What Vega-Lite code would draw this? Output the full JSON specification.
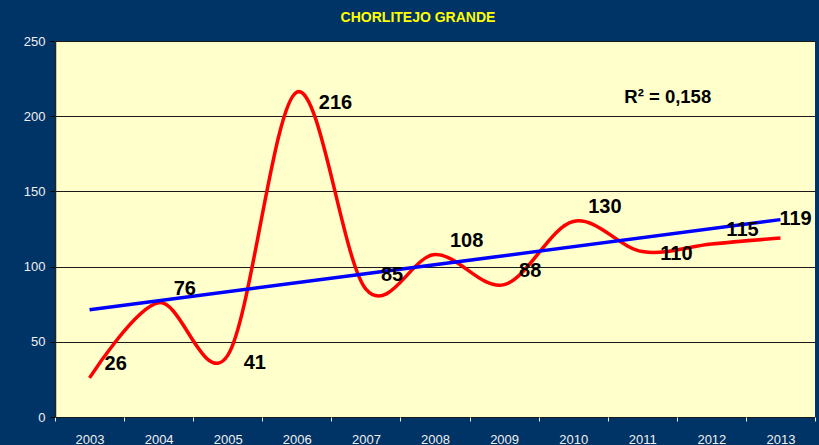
{
  "$schema": "https://vega.github.io/schema/vega-lite/v6.json",
  "width": 760,
  "height": 376,
  "autosize": {"type": "none"},
  "padding": {"left": 55, "top": 41, "right": 4, "bottom": 28},
  "background": "#003366",
  "config": {
    "view": {"fill": "#FFFFCC", "stroke": null},
    "font": "Liberation Sans"
  },
  "title": {
    "text": "CHORLITEJO GRANDE",
    "color": "#FFFF00",
    "fontSize": 14,
    "fontWeight": "bold",
    "font": "Liberation Sans",
    "anchor": "middle",
    "offset": 10,
    "dx": -17
  },
  "data": {
    "values": [
      {"year": 2003, "value": 26},
      {"year": 2004, "value": 76},
      {"year": 2005, "value": 41},
      {"year": 2006, "value": 216},
      {"year": 2007, "value": 85},
      {"year": 2008, "value": 108},
      {"year": 2009, "value": 88},
      {"year": 2010, "value": 130},
      {"year": 2011, "value": 110},
      {"year": 2012, "value": 115},
      {"year": 2013, "value": 119}
    ]
  },
  "encoding": {
    "x": {
      "field": "year",
      "type": "ordinal",
      "title": null,
      "scale": {"paddingInner": 0, "paddingOuter": 0},
      "axis": {
        "labelAngle": 0,
        "labelColor": "#F0F0F0",
        "labelFontSize": 13,
        "labelPadding": 12,
        "tickColor": "#F0F0F0",
        "tickSize": 4,
        "tickBand": "extent",
        "domain": false,
        "grid": false
      }
    },
    "y": {
      "field": "value",
      "type": "quantitative",
      "title": null,
      "scale": {"domain": [0, 250], "nice": false},
      "axis": {
        "values": [0, 50, 100, 150, 200, 250],
        "labelColor": "#F0F0F0",
        "labelFontSize": 13,
        "labelPadding": 5,
        "tickColor": "#000000",
        "tickSize": 5,
        "domainColor": "#222222",
        "domainWidth": 1.5,
        "grid": true,
        "gridColor": "#1A1A1A",
        "gridWidth": 1,
        "gridOpacity": 1
      }
    }
  },
  "layer": [
    {
      "mark": {"type": "line", "color": "#FF0000", "strokeWidth": 3.5, "interpolate": "cardinal"}
    },
    {
      "transform": [{"regression": "value", "on": "year"}],
      "mark": {"type": "line", "color": "#0000FF", "strokeWidth": 3.5}
    },
    {
      "transform": [{"filter": {"not": {"field": "year", "oneOf": [2005, 2006, 2011, 2013]}}}],
      "mark": {"type": "text", "align": "left", "baseline": "middle", "dx": 15, "dy": -14, "fontSize": 20, "fontWeight": "bold", "color": "#000000"},
      "encoding": {"text": {"field": "value", "type": "quantitative"}}
    },
    {
      "transform": [{"filter": {"field": "year", "oneOf": [2005]}}],
      "mark": {"type": "text", "align": "left", "baseline": "middle", "dx": 16, "dy": 8, "fontSize": 20, "fontWeight": "bold", "color": "#000000"},
      "encoding": {"text": {"field": "value", "type": "quantitative"}}
    },
    {
      "transform": [{"filter": {"field": "year", "oneOf": [2006]}}],
      "mark": {"type": "text", "align": "left", "baseline": "middle", "dx": 22, "dy": 11, "fontSize": 20, "fontWeight": "bold", "color": "#000000"},
      "encoding": {"text": {"field": "value", "type": "quantitative"}}
    },
    {
      "transform": [{"filter": {"field": "year", "oneOf": [2011]}}],
      "mark": {"type": "text", "align": "left", "baseline": "middle", "dx": 18, "dy": 2, "fontSize": 20, "fontWeight": "bold", "color": "#000000"},
      "encoding": {"text": {"field": "value", "type": "quantitative"}}
    },
    {
      "transform": [{"filter": {"field": "year", "oneOf": [2013]}}],
      "mark": {"type": "text", "align": "left", "baseline": "middle", "dx": -1, "dy": -19, "fontSize": 20, "fontWeight": "bold", "color": "#000000"},
      "encoding": {"text": {"field": "value", "type": "quantitative"}}
    },
    {
      "transform": [{"filter": {"field": "year", "equal": 2011}}],
      "mark": {"type": "text", "align": "left", "baseline": "middle", "dx": -18, "fontSize": 18.5, "fontWeight": "bold", "color": "#000000", "text": "R² = 0,158"},
      "encoding": {
        "y": {"datum": 213, "type": "quantitative"}
      }
    }
  ]
}
